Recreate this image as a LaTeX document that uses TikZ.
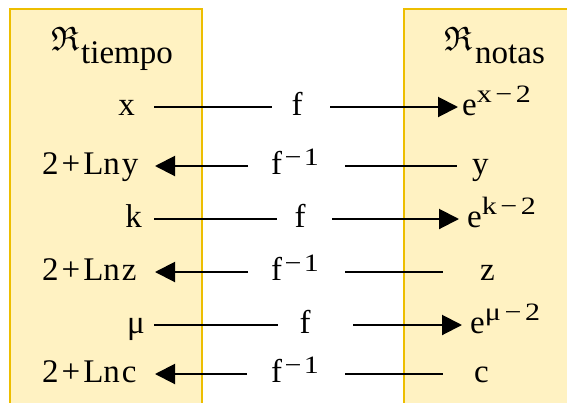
\documentclass[tikz,border=0pt]{standalone}
\usepackage{fontspec}
\usepackage{amssymb}
\newfontfamily\labelfont{Liberation Serif}
\usetikzlibrary{arrows.meta}
\definecolor{panelfill}{HTML}{FFF2C2}
\definecolor{panelline}{HTML}{EDBE00}
% raised, smaller and slightly widened exponent text
\newcommand{\expo}[2][13pt]{\raisebox{#1}{\scalebox{1.2}[1]{\labelfont\fontsize{25}{25}\selectfont #2}}}
\newcommand{\finv}{f\expo[9pt]{\hspace{2pt}−\hspace{2pt}1}}
\newcommand{\frakR}{\scalebox{3.4}{$\mathfrak{R}$}}
\tikzset{
  panel/.style={draw=panelline, fill=panelfill, line width=1.5pt},
  lbl/.style={inner sep=0pt, font=\labelfont\fontsize{33}{33}\selectfont},
  conn/.style={line width=2pt},
  arrowed/.style={conn, -{Triangle[length=20pt,width=20pt]}}
}
\begin{document}
\begin{tikzpicture}[x=1pt,y=-1pt]
\useasboundingbox (0,0) rectangle (567,402);
\clip (0,0) rectangle (567,402);
% the two sets
\draw[panel] (10,9) rectangle (202,420);
\draw[panel] (404,9) rectangle (590,420);
% titles
\node[inner sep=0pt, anchor=base west] (reL) at (51,50) {\frakR};
\node[lbl, anchor=base west] (tiempo) at (81,63) {tiempo};
\node[inner sep=0pt, anchor=base west] (reR) at (444,50) {\frakR};
\node[lbl, anchor=base west] (notas) at (475,63) {notas};

% row 1: x -> e^{x-2}
\node[lbl, anchor=base east] (x) at (135,115) {x};
\node[lbl, anchor=base] (f1) at (297,115) {f};
\node[lbl, anchor=base west] (ex) at (462,115) {e\expo{x\hspace{3pt}−\hspace{3pt}2}};
\coordinate (a1) at (154,107); \coordinate (b1) at (272,107);
\coordinate (c1) at (330,107); \coordinate (d1) at (458,107);
\draw[conn] (a1) -- (b1);
\draw[arrowed] (c1) -- (d1);

% row 2: y -> 2+Lny
\node[lbl, anchor=base west] (lny) at (42,174) {2\hspace{3pt}+\hspace{3pt}Ln\hspace{2pt}y};
\node[lbl, anchor=base west] (g2) at (271,174) {\finv};
\node[lbl, anchor=base west] (y) at (472,174) {y};
\coordinate (a2) at (155,166); \coordinate (b2) at (248,166);
\coordinate (c2) at (345,166); \coordinate (d2) at (457,166);
\draw[arrowed] (b2) -- (a2);
\draw[conn] (c2) -- (d2);

% row 3: k -> e^{k-2}
\node[lbl, anchor=base east] (k) at (142,227) {k};
\node[lbl, anchor=base] (f3) at (300,227) {f};
\node[lbl, anchor=base west] (ek) at (467,227) {e\expo{k\hspace{3pt}−\hspace{3pt}2}};
\coordinate (a3) at (154,219); \coordinate (b3) at (277,219);
\coordinate (c3) at (332,219); \coordinate (d3) at (459,219);
\draw[conn] (a3) -- (b3);
\draw[arrowed] (c3) -- (d3);

% row 4: z -> 2+Lnz
\node[lbl, anchor=base west] (lnz) at (42,280) {2\hspace{3pt}+\hspace{3pt}Ln\hspace{2pt}z};
\node[lbl, anchor=base west] (g4) at (271,280) {\finv};
\node[lbl, anchor=base west] (z) at (480,280) {z};
\coordinate (a4) at (155,272); \coordinate (b4) at (248,272);
\coordinate (c4) at (345,272); \coordinate (d4) at (443,272);
\draw[arrowed] (b4) -- (a4);
\draw[conn] (c4) -- (d4);

% row 5: mu -> e^{mu-2}
\node[lbl, anchor=base east] (mu) at (145,333) {μ};
\node[lbl, anchor=base] (f5) at (305,333) {f};
\node[lbl, anchor=base west] (emu) at (470,333) {e\expo{μ\hspace{3pt}−\hspace{3pt}2}};
\coordinate (a5) at (154,325); \coordinate (b5) at (278,325);
\coordinate (c5) at (353,325); \coordinate (d5) at (462,325);
\draw[conn] (a5) -- (b5);
\draw[arrowed] (c5) -- (d5);

% row 6: c -> 2+Lnc
\node[lbl, anchor=base west] (lnc) at (42,382) {2\hspace{3pt}+\hspace{3pt}Ln\hspace{2pt}c};
\node[lbl, anchor=base west] (g6) at (271,382) {\finv};
\node[lbl, anchor=base west] (c) at (474,382) {c};
\coordinate (a6) at (155,374); \coordinate (b6) at (247,374);
\coordinate (c6) at (345,374); \coordinate (d6) at (443,374);
\draw[arrowed] (b6) -- (a6);
\draw[conn] (c6) -- (d6);
\end{tikzpicture}
\end{document}
